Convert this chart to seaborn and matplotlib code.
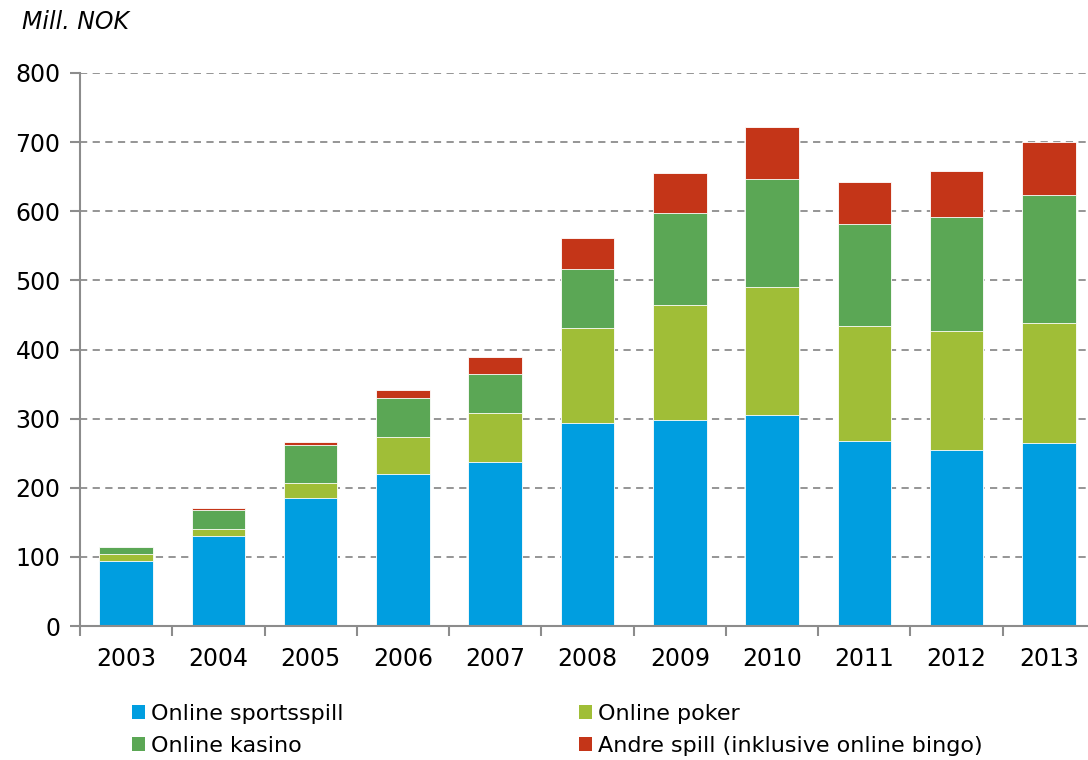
import matplotlib
matplotlib.use("Agg")
import matplotlib.pyplot as plt
import seaborn as sns
import numpy as np
import pandas as pd
from matplotlib.patches import Patch

years = ["2003", "2004", "2005", "2006", "2007", "2008", "2009", "2010", "2011", "2012", "2013"]
sportsspill = [94, 130, 185, 220, 237, 294, 298, 305, 268, 255, 265]
poker = [10, 10, 22, 53, 71, 137, 166, 185, 166, 172, 173]
kasino = [10, 28, 55, 57, 56, 85, 133, 157, 148, 165, 186]
andre = [1, 3, 4, 11, 25, 45, 58, 75, 60, 66, 76]

series_names = ["Online sportsspill", "Online poker", "Online kasino",
                "Andre spill (inklusive online bingo)"]
series = [sportsspill, poker, kasino, andre]
colors = ["#009EE0", "#A0BE37", "#5BA755", "#C43518"]

sns.set_theme(style="white")
plt.rcParams["font.family"] = ["DejaVu Sans"]
plt.rcParams["text.color"] = "black"
plt.rcParams["xtick.color"] = "black"
plt.rcParams["ytick.color"] = "black"

fig = plt.figure(figsize=(10.88, 7.6), dpi=100)
ax = fig.add_axes([80 / 1088, 1 - 626 / 760, 1015 / 1088, (626 - 73) / 760])

cum = np.cumsum(np.array(series, dtype=float), axis=0)
for i in range(len(series) - 1, -1, -1):
    df = pd.DataFrame({"year": years, "value": cum[i]})
    sns.barplot(data=df, x="year", y="value", color=colors[i], width=0.58,
                edgecolor="white", linewidth=0.6, saturation=1, ax=ax, zorder=2)

ax.set_xlim(-0.5, len(years) - 0.5)
ax.set_ylim(0, 800)
ax.set_yticks(range(0, 801, 100))
ax.yaxis.grid(True, linestyle=(0, (4, 3)), color="#8c8c8c", linewidth=1.3)
ax.set_axisbelow(True)
ax.set_xlabel("")
ax.set_ylabel("")

for s in ["top", "right"]:
    ax.spines[s].set_visible(False)
for s in ["left", "bottom"]:
    ax.spines[s].set_color("#8c8c8c")
    ax.spines[s].set_linewidth(1.5)

ax.set_xticks(np.arange(-0.5, len(years), 1), minor=True)
ax.tick_params(axis="x", which="major", length=0, labelsize=17, pad=15,
               labelcolor="black")
ax.tick_params(axis="x", which="minor", bottom=True, length=7, width=1.5,
               color="#8c8c8c", direction="out")
ax.tick_params(axis="y", left=True, length=7, width=1.5, color="#8c8c8c",
               labelsize=17, pad=7, direction="out", labelcolor="black")

fig.text(22 / 1088, 1 - 22 / 760, "Mill. NOK", fontsize=17, style="italic",
         va="center", ha="left", color="black")

order = [0, 2, 1, 3]
handles = [Patch(facecolor=colors[i], edgecolor="none") for i in order]
labels = [series_names[i] for i in order]
fig.legend(handles, labels, loc="center left", bbox_to_anchor=(121 / 1088, 1 - 730 / 760),
           ncol=2, frameon=False, fontsize=16, handlelength=0.56, handleheight=0.58,
           handletextpad=0.3, columnspacing=10.6, labelspacing=0.56, borderpad=0,
           labelcolor="black")

fig.savefig("out.png", dpi=100)
